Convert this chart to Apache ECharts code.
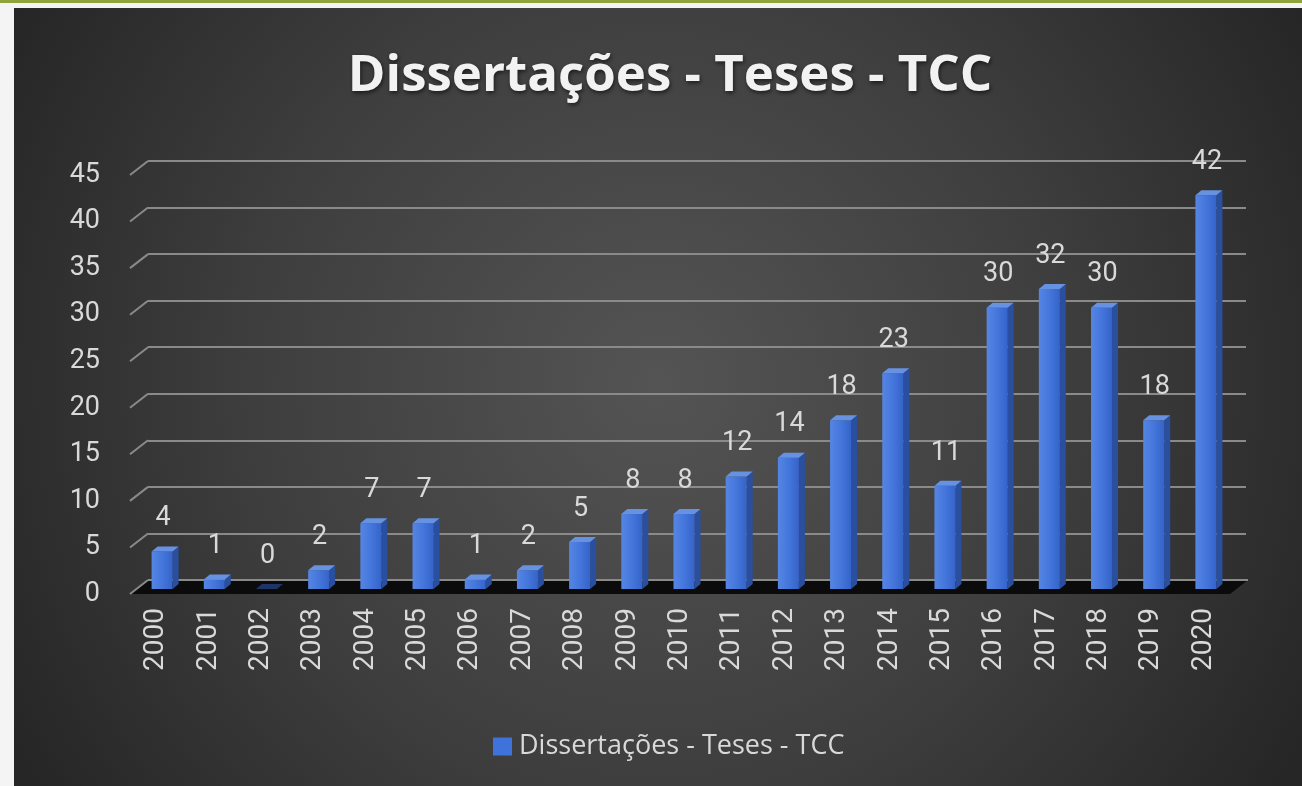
<!DOCTYPE html>
<html>
<head>
<meta charset="utf-8">
<script src="https://cdn.jsdelivr.net/npm/echarts@6/dist/echarts.min.js"></script>
<style>
html,body{margin:0;padding:0;background:#f4f4f4;}
#chart{width:1302px;height:786px;}
</style>
</head>
<body>
<div id="chart"></div>
<script>
const chartTitle = 'Dissertações - Teses - TCC';
const seriesName = 'Dissertações - Teses - TCC';
const categories = ['2000','2001','2002','2003','2004','2005','2006','2007','2008','2009','2010','2011','2012','2013','2014','2015','2016','2017','2018','2019','2020'];
const values = [4,1,0,2,7,7,1,2,5,8,8,12,14,18,23,11,30,32,30,18,42];
const yTicks = [0,5,10,15,20,25,30,35,40,45];
const yMin = 0, yMax = 45, yInterval = 5;

const FONT = 'Roboto';
const TXT = '#d9d9d9';
const GRID_LINE = '#8a8a8a';
const DX = 18, DY = -14;       // depth offset front -> back wall
const BDX = 6, BDY = -5;       // bar depth
const BAR_W = 21;

const chart = echarts.init(document.getElementById('chart'), null, {renderer:'canvas'});

const option = {
  animation: false,
  backgroundColor: '#f4f4f4',
  graphic: [
    {type:'rect', z:-10, silent:true, shape:{x:14,y:8,width:1288,height:778},
     style:{fill:{type:'radial', x:0.5, y:0.48, r:0.95,
       colorStops:[{offset:0,color:'#545454'},{offset:0.55,color:'#3e3e3e'},{offset:1,color:'#262626'}]}}},
    {type:'rect', z:-10, silent:true, shape:{x:0,y:0,width:1302,height:3}, style:{fill:'#8fa33c'}}
  ],
  title: {
    text: chartTitle,
    left: 665, top: 46, textAlign: 'center',
    textStyle: {color:'#f2f2f2', fontFamily:'Open Sans', fontWeight:'bold', fontSize:51,
      textShadowColor:'rgba(0,0,0,0.6)', textShadowBlur:4, textShadowOffsetX:1, textShadowOffsetY:2}
  },
  legend: {
    data: [{name: seriesName, icon:'rect'}],
    left: 488, top: 728,
    itemWidth: 19, itemHeight: 18, itemGap: 10,
    textStyle: {color: TXT, fontFamily: 'Open Sans', fontSize: 27, padding:[0,0,0,2]}
  },
  grid: [
    {left:148, right:56, top:161, bottom:206},   // back wall
    {left:136, right:70, top:167, bottom:197},   // bars
    {left:130, right:72, top:175, bottom:192}    // front plane
  ],
  xAxis: [
    {type:'category', gridIndex:0, data:categories, show:false},
    {type:'category', gridIndex:1, data:categories, show:false},
    {type:'category', gridIndex:2, data:categories,
     axisLine:{show:false}, axisTick:{show:false},
     axisLabel:{rotate:90, margin:14, color:TXT, fontFamily:FONT, fontSize:28, interval:0}}
  ],
  yAxis: [
    {type:'value', gridIndex:0, min:yMin, max:yMax, interval:yInterval,
     axisLine:{show:false}, axisTick:{show:false}, axisLabel:{show:false},
     splitLine:{show:true, lineStyle:{color:GRID_LINE, width:2}}},
    {type:'value', gridIndex:1, min:yMin, max:yMax, interval:yInterval, show:false, splitLine:{show:false}},
    {type:'value', gridIndex:2, min:yMin, max:yMax, interval:yInterval,
     axisLine:{show:false}, axisTick:{show:false}, splitLine:{show:false},
     axisLabel:{margin:30, color:TXT, fontFamily:FONT, fontSize:27}}
  ],
  series: [
    { // floor
      type:'custom', xAxisIndex:2, yAxisIndex:2, z:1, silent:true,
      data:[[0,0]],
      renderItem: function(params, api){
        const cs = params.coordSys;
        const y0 = api.coord([0, 0])[1];
        const xl = cs.x, xr = cs.x + cs.width;
        return {type:'group', children:[
          {type:'polygon', shape:{points:[[xl,y0],[xr,y0],[xr+DX,y0+DY],[xl+DX,y0+DY]]},
           style:{fill:'#0b0b0b'}},
          {type:'line', shape:{x1:xl+DX, y1:y0+DY, x2:xr+DX, y2:y0+DY}, style:{stroke:GRID_LINE, lineWidth:2}}
        ]};
      }
    },
    { // side-wall connectors for gridlines
      type:'custom', xAxisIndex:2, yAxisIndex:2, z:1, silent:true,
      data: yTicks.map(t => [0, t]),
      renderItem: function(params, api){
        const cs = params.coordSys;
        const y = api.coord([0, api.value(1)])[1];
        return {type:'line', shape:{x1:cs.x, y1:y, x2:cs.x+DX, y2:y+DY},
          style:{stroke:GRID_LINE, lineWidth:2}};
      }
    },
    { // 3D bars
      name: seriesName,
      type:'custom', xAxisIndex:1, yAxisIndex:1, z:3,
      itemStyle:{color:'#3f72da'},
      data: values.map((v,i) => [i, v]),
      renderItem: function(params, api){
        const idx = api.value(0), val = api.value(1);
        const top = api.coord([idx, val]);
        const base = api.coord([idx, 0]);
        const l = top[0] - BAR_W/2, r = l + BAR_W, t = top[1], b = base[1];
        const children = [];
        if (b - t > 0.5) {
          children.push({type:'polygon', shape:{points:[[r,t],[r+BDX,t+BDY],[r+BDX,b+BDY],[r,b]]},
            style:{fill:'#2a4f9e'}});
          children.push({type:'rect', shape:{x:l, y:t, width:BAR_W, height:b-t},
            style:{fill:{type:'linear', x:0, y:0, x2:1, y2:0,
              colorStops:[{offset:0,color:'#5686e3'},{offset:0.5,color:'#4476dc'},{offset:1,color:'#3564c9'}]}}});
        }
        children.push({type:'polygon', shape:{points:[[l,t],[l+BDX,t+BDY],[r+BDX,t+BDY],[r,t]]},
          style:{fill: (b - t > 0.5) ? '#6792e2' : '#1f3466'}});
        children.push({type:'text', style:{text:String(val), x:top[0]+1, y:t-33,
          align:'center', verticalAlign:'middle', fill:TXT, fontFamily:FONT, fontSize:27}});
        return {type:'group', children: children};
      }
    }
  ]
};
chart.setOption(option);
</script>
</body>
</html>
